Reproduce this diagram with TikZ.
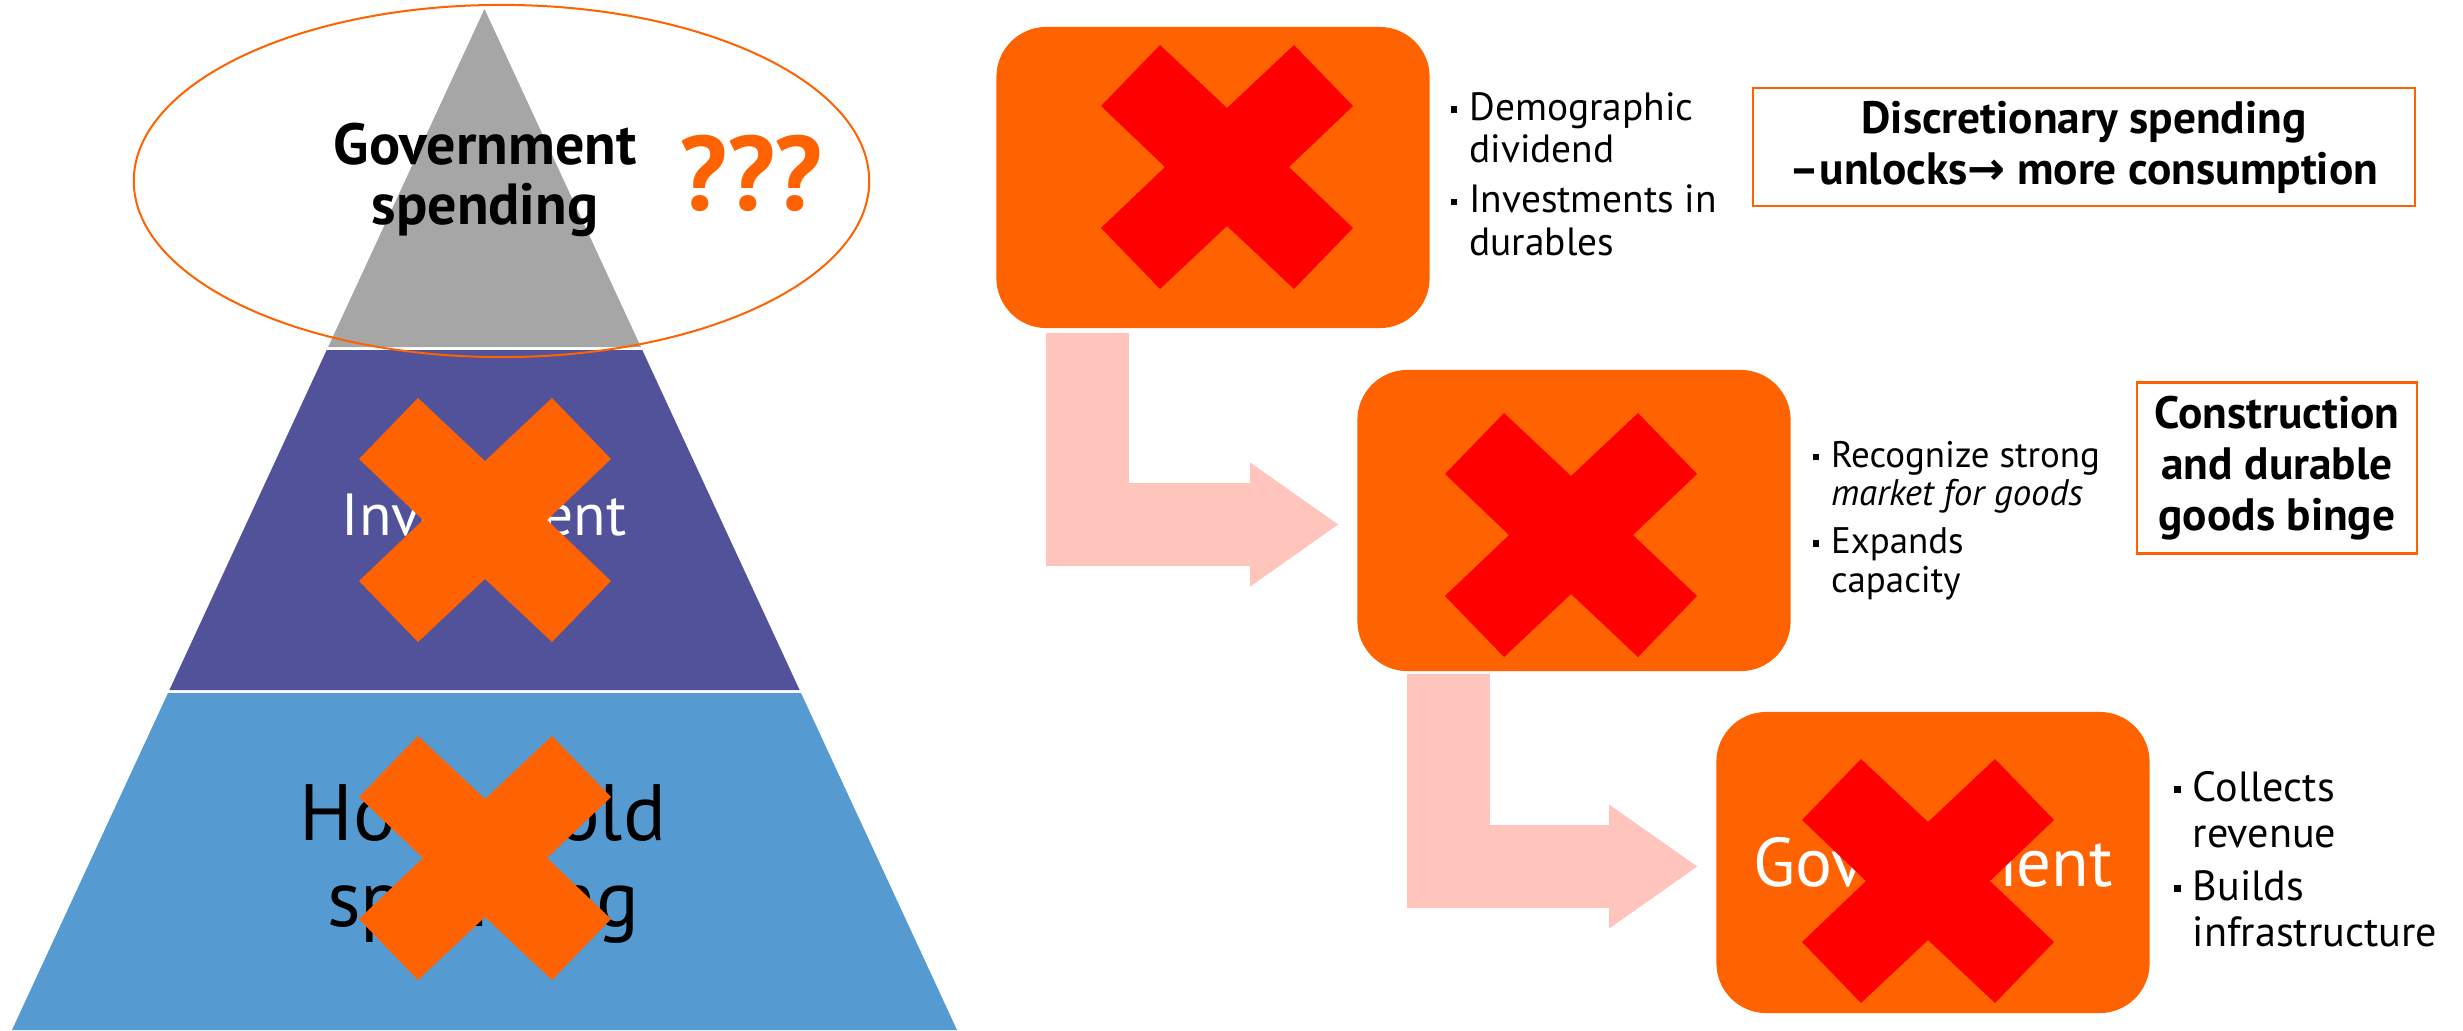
\documentclass[tikz,border=0pt]{standalone}
\usepackage{fontspec}
\setmainfont{PT Sans}
\newfontfamily\symbolfont{DejaVu Sans}
\usetikzlibrary{arrows.meta,positioning}
\definecolor{ingorange}{RGB}{255,98,0}
\definecolor{alarm}{RGB}{255,0,0}
\definecolor{pyrgray}{RGB}{166,166,166}
\definecolor{pyrpurple}{RGB}{82,82,154}
\definecolor{pyrblue}{RGB}{85,154,209}
\definecolor{blush}{RGB}{255,197,189}
\newcommand{\sqbullet}{\rule[0.19em]{0.17em}{0.17em}}
\tikzset{
  tier/.style={align=center,inner sep=0pt},
  ring/.style={draw=ingorange,line width=0.2mm},
  stage/.style={fill=ingorange,rounded corners=5mm,minimum width=43.3mm,
    minimum height=30.1mm,inner sep=0pt,text=white,
    font=\fontsize{19.6}{21}\selectfont},
  flowarrow/.style={draw=blush,line width=8.3mm,line join=miter,
    -{Triangle[length=8.8mm,width=12.4mm,line width=0pt]}},
  note/.style={draw=ingorange,line width=0.25mm,fill=white,align=center,
    inner sep=0pt,font=\bfseries\fontsize{12.9}{14.5}\selectfont},
  bullets/.style={anchor=base west,inner sep=0pt,align=left},
  % big X marks
  pics/cross/.style={code={
    \fill[#1] (-67,-122) -- (0,-59) -- (67,-122) -- (126,-61) -- (62,0)
      -- (126,61) -- (67,122) -- (0,59) -- (-67,122) -- (-126,61)
      -- (-62,0) -- (-126,-61) -- cycle;
  }},
  pics/cross/.default=ingorange,
}
\begin{document}
\begin{tikzpicture}[x=0.01cm,y=-0.01cm]
  \useasboundingbox (0,0) rectangle (2463,1030);

  % pyramid
  \fill[pyrgray] (484.5,9) -- (640.9,347) -- (328.1,347) -- cycle;
  \fill[pyrpurple] (326.7,350) -- (642.3,350) -- (799.6,690) -- (169.4,690) -- cycle;
  \fill[pyrblue] (168,693) -- (801,693) -- (957,1030) -- (12,1030) -- cycle;
  \draw[ring] (501.5,181) ellipse [x radius=3.675cm,y radius=1.76cm];

  \node[tier,font=\bfseries\fontsize{16.5}{17}\selectfont] (gov) at (485,180) {Government\\spending};
  \node[tier,anchor=base,text=ingorange,font=\bfseries\fontsize{30}{32}\selectfont] (qm) at (751,210) {???};
  \node[tier,anchor=base,text=white,font=\fontsize{16.9}{18}\selectfont] (inv) at (484,535) {Investment};
  \node[tier,font=\fontsize{22.7}{24.2}\selectfont] (hh) at (483,864) {Household\\spending};
  \pic at (485,520) {cross};
  \pic at (485,858) {cross};

  % chain of stages
  \node[stage] (hhbox) at (1213,177.5) {};
  \node[stage] (firms) at (1574,520.5) {};
  \node[stage] (govt) at (1933,862.5) {Government};
  \pic at (1227,167) {cross=alarm};
  \pic at (1571,535) {cross=alarm};
  \pic at (1928,881) {cross=alarm};

  \draw[flowarrow] ([xshift=9.15mm,yshift=-0.4mm]hhbox.south west) |- ([xshift=-1.85mm,yshift=-0.4mm]firms.west);
  \draw[flowarrow] ([xshift=9.2mm,yshift=-0.2mm]firms.south west) |- ([xshift=-1.85mm,yshift=-0.4mm]govt.west);

  % bullet notes
  \node[bullets,font=\fontsize{11.2}{12.2}\selectfont] (hhlist) at (1450,120)
    {\begin{tabular}[t]{@{}l@{\hspace{1.2mm}}l@{}}
      \sqbullet & Demographic\\ & dividend\\[2pt]
      \sqbullet & Investments in\\ & durables
    \end{tabular}};
  \node[bullets,font=\fontsize{10.5}{10.95}\selectfont] (firmlist) at (1812,467)
    {\begin{tabular}[t]{@{}l@{\hspace{1.2mm}}l@{}}
      \sqbullet & Recognize strong\\ & \textit{market for goods}\\[2.7pt]
      \sqbullet & Expands\\ & capacity
    \end{tabular}};
  \node[bullets,font=\fontsize{12}{13.1}\selectfont] (govlist) at (2173,801)
    {\begin{tabular}[t]{@{}l@{\hspace{1.2mm}}l@{}}
      \sqbullet & Collects\\ & revenue\\[2pt]
      \sqbullet & Builds\\ & infrastructure
    \end{tabular}};

  % remarks
  \node[note,minimum width=66.2mm,minimum height=11.8mm] (discr) at (2084,147)
    {Discretionary spending\\–unlocks{\symbolfont\bfseries →} more consumption};
  \node[note,minimum width=28mm,minimum height=17.1mm] (binge) at (2277,468)
    {Construction\\and durable\\goods binge};
\end{tikzpicture}
\end{document}
